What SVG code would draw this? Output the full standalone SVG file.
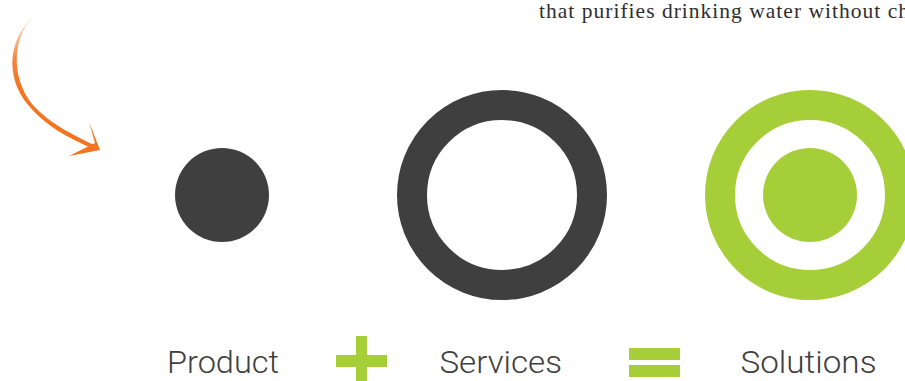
<svg xmlns="http://www.w3.org/2000/svg" width="905" height="381" viewBox="0 0 905 381">
  <defs>
    <style>
      .dark { fill: #3f3f3f; }
      .green { fill: #a6ce39; }
      .ring-dark { fill: none; stroke: #3f3f3f; stroke-width: 30; }
      .ring-green { fill: none; stroke: #a6ce39; stroke-width: 30; }
      .label { font-family: Roboto, "Liberation Sans", sans-serif; font-weight: 300; font-size: 31px; fill: #404040; }
      .body { font-family: "Liberation Serif", "DejaVu Serif", serif; font-size: 21.5px; fill: #2e2e2e; }
    </style>
    <linearGradient id="fade" x1="0" y1="13" x2="0" y2="90" gradientUnits="userSpaceOnUse">
      <stop offset="0" stop-color="#f37421" stop-opacity="0"/>
      <stop offset="0.6" stop-color="#f37421" stop-opacity="0.9"/>
      <stop offset="1" stop-color="#f37421" stop-opacity="1"/>
    </linearGradient>
  </defs>

  <rect width="905" height="381" fill="#ffffff"/>

  <text class="body" x="539" y="17.5" textLength="370" lengthAdjust="spacing">that purifies drinking water without ch</text>

  <g id="connectors">
    <path d="M37,13 C9,35 3,76 29,106 C49,130 75,140 95,150 L96,146 C76,136 52,126 32,104 C10,76 12,35 37,13 Z" fill="url(#fade)"/>
    <path d="M89,122 L95,143 L69,156 L100,150 Z" fill="#f37421"/>
  </g>

  <g id="product">
    <circle class="dark" cx="222" cy="195" r="47"/>
    <text class="label" x="167" y="373" textLength="112" lengthAdjust="spacingAndGlyphs">Product</text>
  </g>

  <g id="plus">
    <rect class="green" x="336" y="355" width="51" height="12"/>
    <rect class="green" x="356" y="336" width="11" height="51"/>
  </g>

  <g id="services">
    <circle class="ring-dark" cx="502" cy="195" r="90"/>
    <text class="label" x="439.5" y="373" textLength="122.5" lengthAdjust="spacingAndGlyphs">Services</text>
  </g>

  <g id="equals">
    <rect class="green" x="629" y="348" width="51" height="12"/>
    <rect class="green" x="629" y="365" width="51" height="12"/>
  </g>

  <g id="solutions">
    <circle class="ring-green" cx="810" cy="195" r="90"/>
    <circle class="green" cx="810" cy="195" r="47"/>
    <text class="label" x="740.5" y="373" textLength="136" lengthAdjust="spacingAndGlyphs">Solutions</text>
  </g>
</svg>
